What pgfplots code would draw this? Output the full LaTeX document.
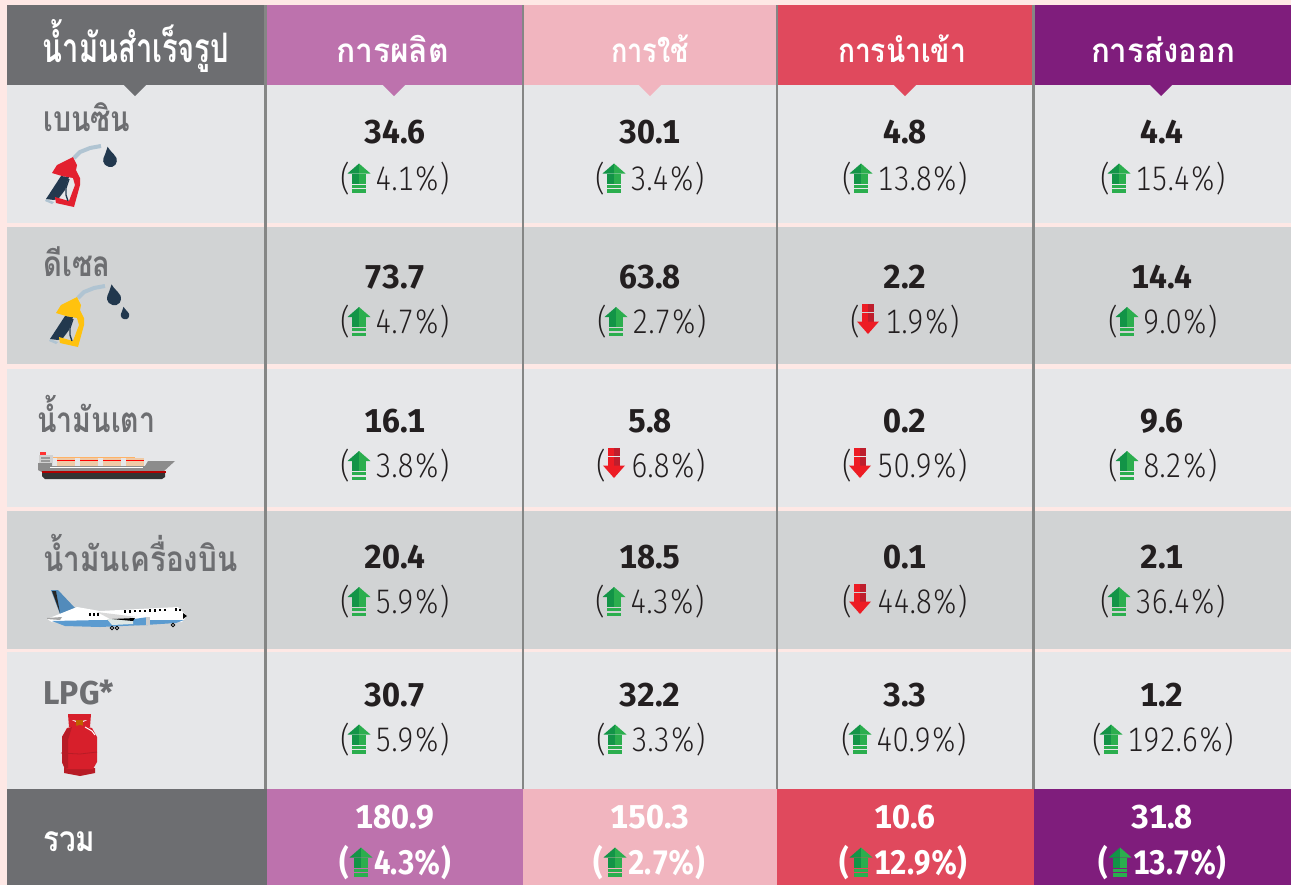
\documentclass[border=0pt]{standalone}
\usepackage{fontspec}
\usepackage{graphicx}
\usepackage{pgfplots}
\usepackage{pgfplotstable}
\pgfplotsset{compat=1.18}
\newfontfamily\thaifont[Script=Thai]{Loma}
\newfontfamily\numfont[FakeStretch=0.97,Numbers=Monospaced]{Fira Sans}
\newfontfamily\totfont[FakeStretch=0.87,Numbers=Monospaced]{Fira Sans}
\newfontfamily\lightfont[FakeStretch=0.85,Numbers=Monospaced]{Fira Sans Light}

\definecolor{pagebg}{HTML}{FEE8E5}
\definecolor{headgray}{HTML}{6D6E71}
\definecolor{colprod}{HTML}{BD72AD}
\definecolor{coluse}{HTML}{F1B5BF}
\definecolor{colimp}{HTML}{E0495D}
\definecolor{colexp}{HTML}{7F1D7C}
\definecolor{bandlight}{HTML}{E6E7E9}
\definecolor{banddark}{HTML}{D1D3D4}
\definecolor{divider}{HTML}{858685}
\definecolor{ink}{HTML}{231F20}
\definecolor{upA}{HTML}{129447}
\definecolor{upB}{HTML}{2BAE4E}
\definecolor{downA}{HTML}{ED1C24}
\definecolor{downB}{HTML}{BE1E2D}
\definecolor{navy}{HTML}{22384E}
\definecolor{hose}{HTML}{B0C4D2}
\definecolor{pumpred}{HTML}{E3202F}
\definecolor{pumpyellow}{HTML}{FFC20E}
\definecolor{planeblue}{HTML}{5B9BD0}
\definecolor{bottle}{HTML}{D71F2B}
\definecolor{bottledark}{HTML}{B71C26}

% 1 px of the reference = 0.5pt, marks are drawn in px around the text baseline
\newcommand{\mpt}[2]{\pgfpoint{#1*0.5pt}{#2*0.5pt}}
\newcommand{\mrect}[5]{\pgfsetfillcolor{#5}\pgfpathrectanglecorners{\mpt{#1}{#2}}{\mpt{#3}{#4}}\pgfusepath{fill}}
\newcommand{\mtri}[7]{\pgfsetfillcolor{#7}\pgfpathmoveto{\mpt{#1}{#2}}\pgfpathlineto{\mpt{#3}{#4}}\pgfpathlineto{\mpt{#5}{#6}}\pgfpathclose\pgfusepath{fill}}
\pgfdeclareplotmark{uparrow}{%
  \mtri{0}{26.5}{-11.5}{16.5}{0}{16.5}{upA}
  \mtri{0}{26.5}{11.5}{16.5}{0}{16.5}{upB}
  \mrect{-6.8}{16.5}{0}{6.5}{upA}
  \mrect{0}{16.5}{6.8}{6.5}{upB}
  \mrect{-6.8}{5.5}{6.8}{2.5}{upB}
  \mrect{-6.8}{1}{6.8}{-2.5}{upB}
}
\pgfdeclareplotmark{downarrow}{%
  \mrect{-6.3}{29.5}{0}{22}{downA}
  \mrect{0}{29.5}{6.3}{22}{downB}
  \mrect{-6.3}{21}{0}{12}{downA}
  \mrect{0}{21}{6.3}{12}{downB}
  \mtri{-11}{12}{11}{12}{0}{-0.5}{downA}
}

% x = left edge of the bracket, y = baseline, dir = 1 up, -1 down
\pgfplotstableread{
x y pct dir
340 190 4.1 1
595 190 3.4 1
842 190 13.8 1
1100 190 15.4 1
340 333.5 4.7 1
597 333.5 2.7 1
850 333.5 1.9 -1
1108 333.5 9.0 1
340 477.5 3.8 1
596 477.5 6.8 -1
842 477.5 50.9 -1
1108 477.5 8.2 1
340 613.5 5.9 1
595 613.5 4.3 1
842 613.5 44.8 -1
1100 613.5 36.4 1
340 751 5.9 1
596 751 3.3 1
841 751 40.9 1
1092 751 192.6 1
}\pcttbl
\pgfplotstableread{
x y pct dir
339 874 4.3 1
593 874 2.7 1
839 874 12.9 1
1098 874 13.7 1
}\pcttotal
\pgfplotstableread{
x y val
395 143 34.6
650 143 30.1
905 143 4.8
1162 143 4.4
395 288 73.7
650 288 63.8
905 288 2.2
1162 288 14.4
395 432 16.1
650 432 5.8
905 432 0.2
1162 432 9.6
395 568 20.4
650 568 18.5
905 568 0.1
1162 568 2.1
395 706 30.7
650 706 32.2
905 706 3.3
1162 706 1.2
}\valtbl
\pgfplotstableread{
x y val
395 828 180.9
650 828 150.3
905 828 10.6
1162 828 31.8
}\valtotal

% icon outlines, in px
\pgfplotstableread{
x y
52 173
57 165
73 157
77 165
76 170
80 178
80 185
74 207
56 203
55 197
69 201
75 185
73 178
62 176
}\nozzle
\pgfplotstableread{
x y
61 176
69 177
65 190
59 198
54 200
46 199
}\grip
\pgfplotstableread{
x y
46 199
54 202
52 204
45 201
}\griptip
\pgfplotstableread{
x y
-0.35 -1.95
0 -1.45
0.55 -0.85
0.95 -0.3
1 0.2
0.8 0.7
0.35 1
-0.2 1
-0.75 0.7
-1 0.2
-0.95 -0.3
-0.7 -0.9
}\drop

\newcommand{\rect}[5]{\addplot[fill=#5,draw=none] coordinates {(#1,#2)(#3,#2)(#3,#4)(#1,#4)};}
\newcommand{\poly}[5][1]{\addplot[fill=#5,draw=none] table[x expr=#1*\thisrow{x}+#3,y expr=#1*\thisrow{y}+#4] {#2};}
\newcommand{\notch}[2]{\addplot[fill=#2,draw=none] coordinates {(#1-12,84)(#1+12,84)(#1,96)};}
\newcommand{\pump}[3]{%
  \addplot[hose,line width=2pt] coordinates {(74+#1,158+#2)(80+#1,152+#2)(90+#1,148+#2)(101+#1,146+#2)};
  \poly{\griptip}{#1}{#2}{hose}
  \poly{\grip}{#1}{#2}{navy}
  \poly{\nozzle}{#1}{#2}{#3}
  \addplot[navy,line width=0.7pt] coordinates {(69+#1,179+#2)(66+#1,188+#2)(66+#1,195+#2)(68+#1,201+#2)};
}
% the second argument is the width of the word in pt
\newcommand{\head}[3]{\node[anchor=base,text=white,font=\thaifont\bfseries\fontsize{16.5}{18}\selectfont,inner sep=0pt] at (axis cs:#1,62) {\resizebox{#2pt}{\totalheight}{#3}};}
\newcommand{\rowname}[4]{\node[anchor=base west,text=headgray,font=\thaifont\bfseries\fontsize{17.5}{18}\selectfont,inner sep=0pt] at (axis cs:#1,#2) {\resizebox{#3pt}{\totalheight}{#4}};}

\pgfplotsset{
  valstyle/.style={draw=none,mark=none,point meta=explicit symbolic,
    nodes near coords={\pgfplotspointmeta},
    nodes near coords style={anchor=base,inner sep=0pt,text=#1,
      font=\numfont\bfseries\fontsize{16.5}{18}\selectfont}},
  pctstyle/.style 2 args={draw=none,mark=none,point meta=explicit symbolic,
    nodes near coords={\makebox[17.5pt][l]{(}\pgfplotspointmeta\%)},
    nodes near coords style={anchor=base west,inner sep=0pt,text=#1,font=#2}},
}

\begin{document}
\begin{tikzpicture}
\begin{axis}[
    scale only axis,
    width=645.5pt, height=442.5pt,
    xmin=0, xmax=1291, ymin=0, ymax=885,
    y dir=reverse,
    hide axis,
    clip=true,
]
% page and rows
\rect{0}{0}{1291}{885}{pagebg}
\rect{7}{85}{1291}{223}{bandlight}
\rect{7}{226.5}{1291}{364}{banddark}
\rect{7}{369}{1291}{507}{bandlight}
\rect{7}{511}{1291}{649}{banddark}
\rect{7}{652}{1291}{789}{bandlight}
% header row
\rect{7}{5}{264}{85}{headgray}
\rect{267}{5}{522}{85}{colprod}
\rect{524}{5}{776}{85}{coluse}
\rect{778}{5}{1032}{85}{colimp}
\rect{1035}{5}{1291}{85}{colexp}
\notch{135}{headgray}
\notch{394}{colprod}
\notch{650}{coluse}
\notch{905}{colimp}
\notch{1161}{colexp}
% column rules
\rect{264}{5}{267}{789}{divider}
\rect{522}{5}{524}{789}{divider}
\rect{776}{5}{778}{789}{divider}
\rect{1032}{5}{1035}{789}{divider}
% total row
\rect{7}{789}{267}{885}{headgray}
\rect{267}{789}{523}{885}{colprod}
\rect{523}{789}{777}{885}{coluse}
\rect{777}{789}{1034}{885}{colimp}
\rect{1034}{789}{1291}{885}{colexp}

% pump icons
\pump{0}{0}{pumpred}
\poly[6.8]{\drop}{110}{160}{navy}
\pump{4}{140}{pumpyellow}
\poly[7]{\drop}{114}{298}{navy}
\poly[4.2]{\drop}{125}{315}{navy}

% ship
\rect{39}{455}{53}{463}{black!18}
\rect{40}{452}{46}{455}{red!80!white}
\rect{41}{457}{50}{459}{black!40}
\rect{41}{460}{50}{462}{black!40}
\rect{57}{458}{75}{466}{black!18!orange!35}
\rect{80}{458}{98}{466}{black!18!orange!35}
\rect{103}{458}{121}{466}{black!18!orange!35}
\rect{126}{458}{144}{466}{black!18!orange!35}
\rect{53}{456.5}{135}{457.5}{orange!60}
\rect{57}{460}{75}{461}{red}
\rect{80}{460}{98}{461}{red}
\rect{103}{460}{121}{461}{red}
\rect{126}{460}{144}{461}{red}
\addplot[fill=black!45,draw=none] coordinates {(38,463)(52,463)(52,466)(145,466)(148,461)(175,461)(163,472)(42,472)(38,470)};
\rect{50}{466.5}{143}{468}{white}
\addplot[fill=black!80,draw=none] coordinates {(42,472)(165,472)(165,477)(162,479)(45,479)(42,476)};
\rect{42}{471}{166}{472.5}{red!70!black}

% plane
\addplot[fill=planeblue!90!black,draw=none] coordinates {(51,590)(58,590)(75,608)(60,614)};
\addplot[fill=black!85,draw=none] coordinates {(52,591)(56,591)(60,613)};
\addplot[fill=white,draw=none] coordinates {(47,619)(77,607)(100,611)(178,607)(187,616)(182,622)(100,622)(52,622)};
\addplot[fill=black!35,draw=none] coordinates {(47,618)(62,617)(60,620)(47,619)};
\addplot[fill=planeblue,draw=none] coordinates {(52,621)(100,620)(184,620)(176,623)(145,625)(100,627)(65,626)};
\addplot[fill=black!15,draw=none] coordinates {(97,612)(137,617)(112,620)};
\addplot[fill={rgb,255:red,222;green,232;blue,230},draw=none] coordinates {(107,619)(133,619)(133,624)(112,625)};
\addplot[fill=black,draw=none] coordinates {(112,619)(135,618)(133,621)};
\addplot[fill=planeblue,draw=none] coordinates {(134,619)(148,617)(148,625)(136,625)};
\rect{146}{617}{150}{625}{black!20}
\addplot[fill=black,draw=none] coordinates {(183,613)(187,616)(183,619)};
\addplot[only marks,mark=*,mark size=0.9pt,mark options={fill=white,draw=black,line width=0.4pt}] coordinates {(112,628)(117,628)(173,625)};
\addplot[only marks,mark=square*,mark size=0.35pt,mark options={fill=planeblue,draw=none}] coordinates {(90,614.5)(94,614.5)(98,614.5)(125,611.5)(130,611.5)(135,611)(140,611)(145,611)(150,610.5)(155,610.5)(160,610)(165,610)(176,609.5)(180,610)};

% gas bottle
\addplot[fill=bottle,draw=none] coordinates {(68,714)(91,714)(90,727)(69,727)};
\addplot[fill=white,draw=none] coordinates {(72,720)(78,721)(78,723)};
\addplot[fill=white,draw=none] coordinates {(87,720)(81,721)(81,723)};
\rect{76}{720}{83}{726}{orange!75!black}
\addplot[fill=bottledark,draw=none] coordinates {(64,768)(95,768)(95,773)(80,776)(64,773)};
\addplot[fill=bottle,draw=none] coordinates {(62,737)(67,728)(80,725)(92,728)(97,737)(97,762)(93,769)(65,769)(62,762)};
\addplot[fill=bottledark,draw=none] coordinates {(62,737)(67,729)(72,727)(68,740)(68,768)(65,769)(62,762)};
\addplot[bottledark,line width=0.4pt] coordinates {(61,753)(80,754)(97,752)};
\addplot[white,line width=0.5pt] coordinates {(85,727)(92,731)(95,735)};

% header and row labels
\head{136}{93}{น้ำมันสำเร็จรูป}
\head{392.5}{56.5}{การผลิต}
\head{650}{39}{การใช้}
\head{902}{64}{การนำเข้า}
\head{1163}{72}{การส่งออก}
\rowname{43}{131}{43.5}{เบนซิน}
\rowname{43}{276}{33.5}{ดีเซล}
\rowname{37}{432}{59}{น้ำมันเตา}
\rowname{43}{571}{97}{น้ำมันเครื่องบิน}
\node[anchor=base west,text=headgray,font=\numfont\bfseries\fontsize{16.5}{18}\selectfont,inner sep=0pt] at (axis cs:43,704) {LPG*};
\node[anchor=base west,text=white,font=\thaifont\bfseries\fontsize{17.5}{18}\selectfont,inner sep=0pt] at (axis cs:43,851) {\resizebox{26pt}{\totalheight}{รวม}};

% values
\addplot[valstyle=ink] table[x=x,y=y,meta=val] {\valtbl};
\addplot[valstyle=white] table[x=x,y=y,meta=val] {\valtotal};
\addplot[pctstyle={ink}{\lightfont\fontsize{17}{18}\selectfont}] table[x=x,y=y,meta=pct] {\pcttbl};
\addplot[pctstyle={white}{\totfont\bfseries\fontsize{17}{18}\selectfont}] table[x=x,y=y,meta=pct] {\pcttotal};

% arrows
\addplot[only marks,mark=uparrow,restrict expr to domain={\thisrow{dir}}{1:1}] table[x expr=\thisrow{x}+19,y=y] {\pcttbl};
\addplot[only marks,mark=downarrow,restrict expr to domain={\thisrow{dir}}{-1:-1}] table[x expr=\thisrow{x}+18,y=y] {\pcttbl};
\addplot[only marks,mark=uparrow] table[x expr=\thisrow{x}+22,y=y] {\pcttotal};
\end{axis}
\end{tikzpicture}
\end{document}
